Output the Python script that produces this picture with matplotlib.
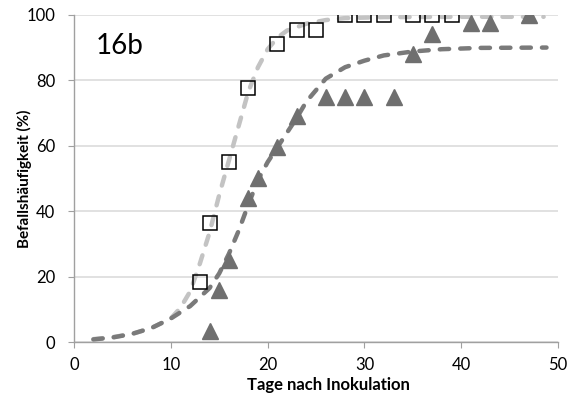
"""
Befallshaeufigkeit ueber Tage nach Inokulation (16b)
"""

import matplotlib
matplotlib.use('Agg')
import matplotlib.pyplot as plt

# observed values
days_sq = [13, 14, 16, 18, 21, 23, 25, 28, 30, 32, 35, 37, 39]
inc_sq = [18.5, 36.5, 55, 77.5, 91, 95.5, 95.5, 100, 100, 100, 100, 100, 100]

days_tri = [14, 15, 16, 18, 19, 21, 23, 26, 28, 30, 33, 35, 37, 41, 43, 47]
inc_tri = [3.5, 16, 25, 44, 50, 59.5, 69, 75, 75, 75, 75, 88, 94, 97.5, 97.5, 100]

# fitted curves
fit_sq_x = [2, 4, 6, 8, 10, 11, 12, 13, 14, 15, 16, 17, 18, 19, 20, 21, 22, 24, 26, 28, 32, 40, 48.5]
fit_sq_y = [0.9, 1.5, 2.5, 4.3, 7.2, 10.5, 15.5, 24, 33.5, 45, 55.5, 66, 76.5, 84, 89.5, 93, 95.2, 97.3, 98.4, 99, 99.3, 99.4, 99.4]

fit_tri_x = [2, 4, 6, 8, 10, 12, 14, 15, 16, 17, 18, 19, 20, 21, 22, 23, 24, 26, 28, 30, 32, 35, 38, 42, 48.8]
fit_tri_y = [0.8, 1.4, 2.5, 4.3, 7.2, 11, 16.5, 21, 27, 34, 42, 49.5, 55, 59.5, 64, 68.5, 73.5, 80.5, 84, 86, 87.6, 88.8, 89.5, 89.9, 90]

xticks = [0, 10, 20, 30, 40, 50]
yticks = [0, 20, 40, 60, 80, 100]

plt.rcParams['font.family'] = ['Lato', 'DejaVu Sans']

fig = plt.figure(figsize=(5.76, 4.01), dpi=100)
ax = fig.add_axes([0.1285, 0.147, 0.8405, 0.816])

ax.grid(axis='y', color='#d9d9d9', linewidth=1.1, zorder=0)

ax.plot(fit_sq_x, fit_sq_y, color='#c3c3c3', linewidth=3.2, linestyle=(0, (2.1, 2.5)),
        dash_capstyle='round', zorder=2)
ax.plot(fit_tri_x, fit_tri_y, color='#7a7a7a', linewidth=3.2, linestyle=(0, (2.1, 2.5)),
        dash_capstyle='round', zorder=2)

ax.plot(days_sq, inc_sq, linestyle='none', marker='s', markersize=10.5,
        markerfacecolor='none', markeredgecolor='black', markeredgewidth=1.1, zorder=3)
ax.plot(days_tri, inc_tri, linestyle='none', marker='^', markersize=11.5,
        markerfacecolor='#6f6f6f', markeredgecolor='#6f6f6f', zorder=3)

ax.text(2.2, 90.5, '16b', fontsize=20, va='center', ha='left')

ax.set_xlim(0, 50)
ax.set_ylim(0, 100)
ax.set_xticks(xticks)
ax.set_yticks(yticks)
ax.tick_params(axis='both', direction='out', length=4, color='#a0a0a0', labelsize=12)
ax.tick_params(axis='x', pad=7)
ax.tick_params(axis='y', pad=9.5)

for side in ['top', 'right']:
    ax.spines[side].set_visible(False)
for side in ['left', 'bottom']:
    ax.spines[side].set_color('#a0a0a0')
    ax.spines[side].set_linewidth(1)

ax.set_xlabel('Tage nach Inokulation', fontsize=12, fontweight='bold')
ax.set_ylabel('Befallshäufigkeit (%)', fontsize=11, fontweight='bold')
ax.xaxis.set_label_coords(0.525, -0.108)
ax.yaxis.set_label_coords(-0.087, 0.5)

fig.savefig('out.png', dpi=100)
